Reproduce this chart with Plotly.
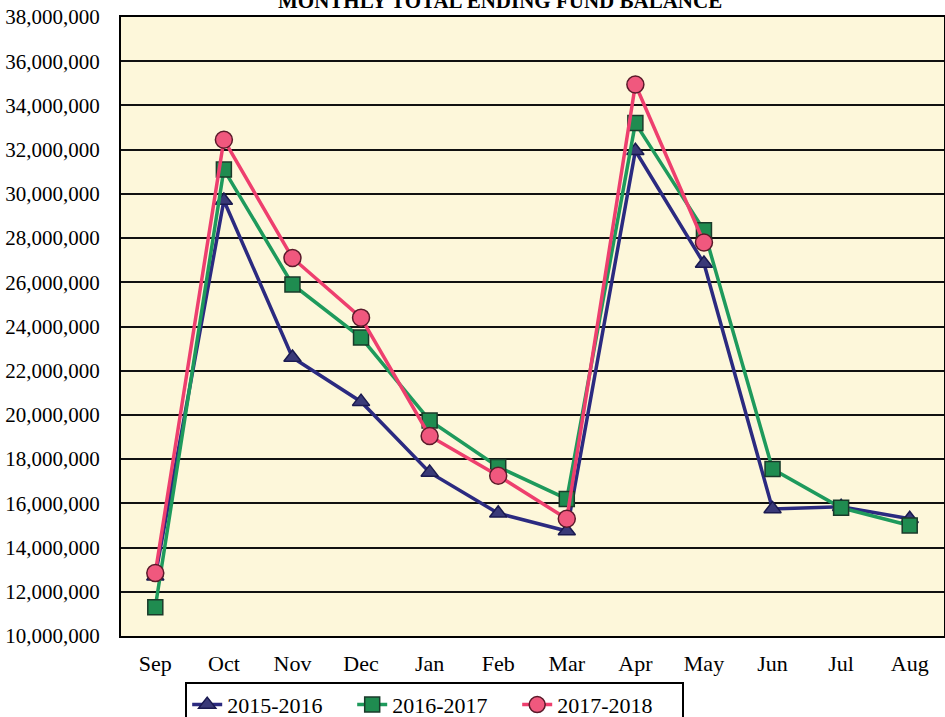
import plotly.graph_objects as go

months = ["Sep", "Oct", "Nov", "Dec", "Jan", "Feb", "Mar", "Apr", "May", "Jun", "Jul", "Aug"]
fy_2015_2016 = [12700000, 29700000, 22600000, 20600000, 17400000, 15550000, 14750000, 31950000, 26850000, 15750000, 15850000, 15300000]
fy_2016_2017 = [11300000, 31100000, 25900000, 23500000, 19750000, 17650000, 16200000, 33200000, 28350000, 17550000, 15800000, 15000000]
fy_2017_2018 = [12850000, 32450000, 27100000, 24400000, 19050000, 17250000, 15300000, 34950000, 27800000, None, None, None]
y_ticks = list(range(10000000, 38000001, 2000000))

serif = "Liberation Serif, Times New Roman, serif"

fig = go.Figure()
fig.add_trace(go.Scatter(
    x=months, y=fy_2015_2016, name="2015-2016", mode="lines+markers",
    line=dict(color="#2B2A80", width=3.5),
    marker=dict(symbol="triangle-up", size=15, color="#3A3A78", line=dict(color="#1A1A50", width=1.5)),
))
fig.add_trace(go.Scatter(
    x=months, y=fy_2016_2017, name="2016-2017", mode="lines+markers",
    line=dict(color="#1E9A5C", width=3.5),
    marker=dict(symbol="square", size=15, color="#1F8C50", line=dict(color="#1A3A2A", width=1.5)),
))
fig.add_trace(go.Scatter(
    x=months, y=fy_2017_2018, name="2017-2018", mode="lines+markers",
    line=dict(color="#EE3F6E", width=3.5),
    marker=dict(symbol="circle", size=17, color="#F0587E", line=dict(color="#5A1A2A", width=1.5)),
))

fig.update_layout(
    width=945, height=717,
    margin=dict(l=121, r=1, t=17, b=81, autoexpand=False),
    paper_bgcolor="white",
    plot_bgcolor="#FDF7DA",
    font=dict(family=serif, size=22, color="black"),
    showlegend=True,
    legend=dict(
        orientation="h", x=0.078, y=-0.074, xanchor="left", yanchor="top",
        bordercolor="black", borderwidth=2, bgcolor="white",
        font=dict(family=serif, size=22, color="black"),
        itemwidth=30, entrywidth=120, tracegroupgap=0,
    ),
    annotations=[dict(
        text="<b>MONTHLY TOTAL ENDING FUND BALANCE</b>",
        xref="paper", yref="paper", x=0.46, y=1.003, xanchor="center", yanchor="bottom",
        showarrow=False, font=dict(family=serif, size=21, color="black"),
    )],
)

fig.update_xaxes(
    type="category", range=[-0.5, 11.5],
    showline=True, linecolor="black", linewidth=2, mirror=True,
    showgrid=False, ticks="", ticklabelstandoff=7,
    tickfont=dict(family=serif, size=22),
)
fig.update_yaxes(
    range=[10000000, 38000000], tickvals=y_ticks,
    tickformat=",d",
    showline=True, linecolor="black", linewidth=2, mirror=True,
    showgrid=True, gridcolor="#111111", gridwidth=2,
    ticks="", ticklabelstandoff=15, zeroline=False,
    tickfont=dict(family=serif, size=21),
)

fig.write_html("out.html")
